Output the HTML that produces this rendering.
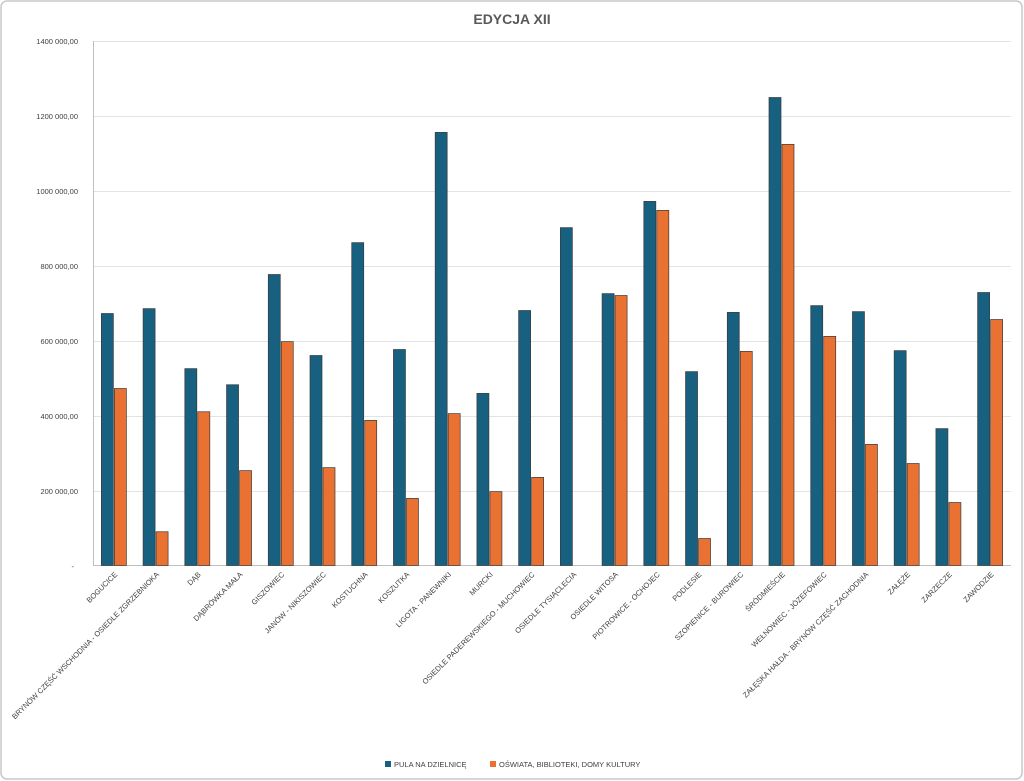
<!DOCTYPE html>
<html><head><meta charset="utf-8"><style>
html,body{margin:0;padding:0;background:#fff}
svg{display:block;font-family:"Liberation Sans","DejaVu Sans",sans-serif}
</style></head><body>
<svg width="1024" height="781" viewBox="0 0 1024 781" xmlns="http://www.w3.org/2000/svg">
<rect x="1" y="1" width="1021" height="778" rx="6" fill="#fff" stroke="#c8c8c8" stroke-width="1.5"/>
<text x="512" y="24" text-anchor="middle" font-size="14" font-weight="bold" fill="#595959">EDYCJA XII</text>
<g stroke="#e3e3e3" stroke-width="1">
<line x1="93" x2="1011" y1="41.5" y2="41.5"/><line x1="93" x2="1011" y1="116.5" y2="116.5"/>
<line x1="93" x2="1011" y1="191.5" y2="191.5"/><line x1="93" x2="1011" y1="266.5" y2="266.5"/>
<line x1="93" x2="1011" y1="341.5" y2="341.5"/><line x1="93" x2="1011" y1="416.5" y2="416.5"/>
<line x1="93" x2="1011" y1="491.5" y2="491.5"/>
</g>
<line x1="93.5" x2="93.5" y1="41" y2="566" stroke="#bfbfbf"/>
<line x1="93" x2="1011" y1="565.5" y2="565.5" stroke="#bfbfbf"/>
<g font-size="7.5" fill="#404040" text-anchor="end">
<text x="78" y="44">1400 000,00</text><text x="78" y="119">1200 000,00</text>
<text x="78" y="194">1000 000,00</text><text x="78" y="269">800 000,00</text>
<text x="78" y="344">600 000,00</text><text x="78" y="419">400 000,00</text>
<text x="78" y="494">200 000,00</text><text x="74" y="569">-</text>
</g>
<g id="bars" stroke="#3a3a3a" stroke-width="0.7"></g>
<g id="labels" font-size="7.5" fill="#404040" text-anchor="end"></g>
<rect x="385" y="761" width="6" height="6" fill="#17607f"/>
<text x="394" y="767" font-size="7.5" fill="#404040">PULA NA DZIELNICĘ</text>
<rect x="490" y="761" width="6" height="6" fill="#e97132"/>
<text x="499" y="767" font-size="7.5" fill="#404040">OŚWIATA, BIBLIOTEKI, DOMY KULTURY</text>
<script>
var d=[["BOGUCICE",672,472],["BRYNÓW CZĘŚĆ WSCHODNIA - OSIEDLE ZGRZEBNIOKA",685,90],["DĄB",525,410],["DĄBRÓWKA MAŁA",482,253],["GISZOWIEC",776,597],["JANÓW - NIKISZOWIEC",560,261],["KOSTUCHNA",861,387],["KOSZUTKA",576,179],["LIGOTA - PANEWNIKI",1155,405],["MURCKI",459,197],["OSIEDLE PADEREWSKIEGO - MUCHOWIEC",680,235],["OSIEDLE TYSIĄCLECIA",901,0],["OSIEDLE WITOSA",725,720],["PIOTROWICE - OCHOJEC",971,947],["PODLESIE",517,72],["SZOPIENICE - BUROWIEC",675,571],["ŚRÓDMIEŚCIE",1248,1123],["WEŁNOWIEC - JÓZEFOWIEC",693,611],["ZAŁĘSKA HAŁDA - BRYNÓW CZĘŚĆ ZACHODNIA",677,323],["ZAŁĘŻE",573,272],["ZARZECZE",365,168],["ZAWODZIE",728,656]];
var NS="http://www.w3.org/2000/svg",b=document.getElementById("bars"),l=document.getElementById("labels");
var x0=93,bw=(1011-93)/22,y0=565.5,k=525/1400;
d.forEach(function(r,i){var c=x0+bw*(i+0.5);
[[r[1],"#17607f",c-12.5],[r[2],"#e97132",c+0.5]].forEach(function(s){if(!s[0])return;var h=s[0]*k;var e=document.createElementNS(NS,"rect");
e.setAttribute("x",s[2]);e.setAttribute("y",y0-h);e.setAttribute("width",12);e.setAttribute("height",h);e.setAttribute("fill",s[1]);b.appendChild(e);});
var t=document.createElementNS(NS,"text");t.setAttribute("transform","translate("+(c+4)+",575) rotate(-45)");t.textContent=r[0];l.appendChild(t);});
</script>
</svg>
</body></html>
